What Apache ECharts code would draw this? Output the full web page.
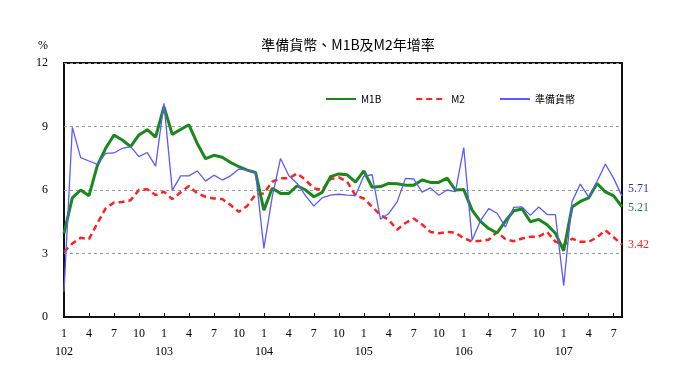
<!DOCTYPE html>
<html>
<head>
<meta charset="utf-8">
<script src="https://cdn.jsdelivr.net/npm/echarts@6/dist/echarts.min.js"></script>
<style>html,body{margin:0;padding:0;background:#fff;}#c{width:680px;height:382px;}</style>
</head>
<body>
<div id="c"></div>
<script>
// Months 102/1 .. 107/8 (ROC years)
const years = [102, 103, 104, 105, 106, 107];
const months = [];
years.forEach(y => { for (let m = 1; m <= 12; m++) { if (y === 107 && m > 8) break; months.push(y + '/' + m); } });

const m1b = [3.95,5.63,6.0,5.73,7.15,7.97,8.6,8.36,8.05,8.6,8.85,8.5,
  9.94,8.63,8.86,9.08,8.2,7.48,7.64,7.55,7.3,7.1,6.94,6.83,
  5.05,6.08,5.84,5.84,6.2,6.0,5.68,5.89,6.63,6.76,6.72,6.37,
  6.9,6.13,6.16,6.31,6.3,6.23,6.23,6.47,6.36,6.36,6.56,6.0,
  6.02,5.05,4.52,4.18,3.97,4.53,5.02,5.1,4.5,4.61,4.36,3.96,
  3.13,5.2,5.46,5.63,6.31,5.91,5.72,5.21];
const m2 = [3.08,3.47,3.74,3.68,4.42,5.13,5.41,5.43,5.52,6.0,6.04,5.76,
  5.92,5.57,5.89,6.19,5.84,5.68,5.6,5.57,5.29,4.97,5.25,5.79,
  5.84,6.39,6.55,6.55,6.78,6.47,6.08,6.0,6.52,6.6,6.39,5.74,
  5.6,5.2,4.82,4.59,4.12,4.44,4.65,4.37,4.02,3.96,4.02,3.98,
  3.72,3.57,3.6,3.65,4.02,3.68,3.58,3.71,3.79,3.8,4.02,3.56,
  3.39,3.7,3.55,3.55,3.76,4.1,3.77,3.42];
const reserve = [1.2,8.96,7.53,7.37,7.21,7.73,7.75,7.97,8.05,7.58,7.77,7.13,
  10.1,5.98,6.67,6.67,6.9,6.42,6.7,6.47,6.67,6.99,6.94,6.83,
  3.24,5.68,7.49,6.67,6.31,5.73,5.24,5.63,5.76,5.8,5.76,5.74,
  6.66,6.72,4.62,4.89,5.44,6.55,6.52,5.9,6.1,5.75,6.0,5.92,
  8.0,3.63,4.55,5.12,4.9,4.25,5.18,5.2,4.8,5.2,4.84,4.84,
  1.48,5.45,6.28,5.66,6.4,7.23,6.55,5.71];
const yTicks = [0, 3, 6, 9, 12];

const serif = 'Liberation Serif';
const cjk = 'Noto Sans CJK TC';

const chart = echarts.init(document.getElementById('c'), null, {renderer: 'canvas'});
chart.setOption({
  animation: false,
  backgroundColor: '#fff',
  title: {
    text: '準備貨幣、M1B及M2年增率',
    left: 343, textAlign: 'center', top: 33,
    textStyle: {fontFamily: cjk, fontSize: 14, fontWeight: 'normal', color: '#000'}
  },
  legend: {
    top: 89, left: 320, itemWidth: 30, itemHeight: 10, itemGap: 34,
    itemStyle: {opacity: 0},
    textStyle: {fontFamily: cjk, fontSize: 10, color: '#000'},
    data: ['M1B', 'M2', '準備貨幣']
  },
  grid: {left: 64, right: 58, top: 63, bottom: 65, show: true, borderColor: '#111', borderWidth: 2, backgroundColor: 'transparent'},
  xAxis: {
    type: 'category', data: months, boundaryGap: false,
    axisLine: {show: true, lineStyle: {color: '#111', width: 2}},
    axisTick: {show: true, inside: true, interval: 2, length: 4, lineStyle: {color: '#111'}},
    axisLabel: {
      interval: 2, margin: 8, color: '#000', fontFamily: serif, fontSize: 12, lineHeight: 18,
      formatter: v => { const [y, m] = v.split('/'); return m === '1' ? m + '\n' + y : m; }
    },
    splitLine: {show: false}
  },
  yAxis: {
    type: 'value', min: yTicks[0], max: yTicks[yTicks.length - 1], interval: 3,
    name: '%', nameLocation: 'end', nameGap: 11,
    nameTextStyle: {fontFamily: serif, fontSize: 12, color: '#000', align: 'right', padding: [0, 16, 0, 0]},
    axisLine: {show: false}, axisTick: {show: false},
    axisLabel: {margin: 16, color: '#000', fontFamily: serif, fontSize: 12},
    splitLine: {show: true, lineStyle: {color: '#9a9a9a', type: [3, 3], width: 1}}
  },
  series: [
    {
      name: 'M1B', type: 'line', data: m1b, symbol: 'none', z: 3,
      lineStyle: {color: '#1a881a', width: 3}, itemStyle: {color: '#1a881a'},
      endLabel: {show: true, distance: 6, offset: [0, 1], color: '#2a7a4a', fontFamily: serif, fontSize: 12,
        formatter: p => Number(p.value).toFixed(2)}
    },
    {
      name: 'M2', type: 'line', data: m2, symbol: 'none', z: 2,
      lineStyle: {color: '#ff2020', width: 2.5, type: [6, 4]}, itemStyle: {color: '#ff2020'},
      endLabel: {show: true, distance: 6, color: '#ff2020', fontFamily: serif, fontSize: 12,
        formatter: p => Number(p.value).toFixed(2)}
    },
    {
      name: '準備貨幣', type: 'line', data: reserve, symbol: 'none', z: 4,
      lineStyle: {color: '#5a5aff', width: 1.3}, itemStyle: {color: '#5a5aff'},
      endLabel: {show: true, distance: 6, offset: [0, -7], color: '#3030c0', fontFamily: serif, fontSize: 12,
        formatter: p => Number(p.value).toFixed(2)}
    }
  ]
});
</script>
</body>
</html>
